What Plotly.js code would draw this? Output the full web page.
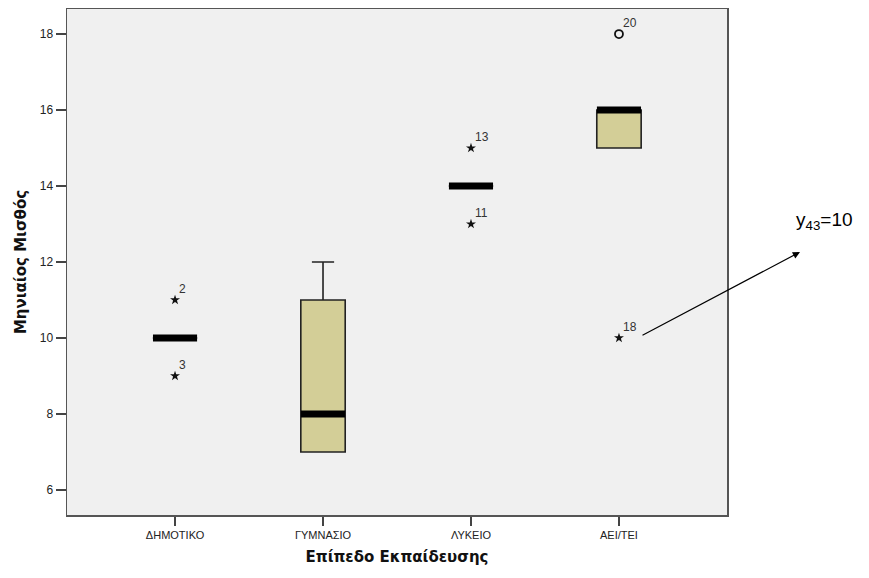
<!DOCTYPE html>
<html>
<head>
<meta charset="utf-8">
<script src="https://cdn.plot.ly/plotly-3.0.1.min.js"></script>
<style>html,body{margin:0;padding:0;background:#fff;}#chart{width:869px;height:578px;}</style>
</head>
<body>
<div id="chart"></div>
<script>
// Categories and box statistics
var categories = ['ΔΗΜΟΤΙΚΟ', 'ΓΥΜΝΑΣΙΟ', 'ΛΥΚΕΙΟ', 'ΑΕΙ/ΤΕΙ'];
var q1Values = [10, 7, 14, 15];
var medianValues = [10, 8, 14, 16];
var q3Values = [10, 11, 14, 16];
var lowerWhisker = [10, 7, 14, 15];
var upperWhisker = [10, 12, 14, 16];

// Extreme values (stars)
var extremeCat = ['ΔΗΜΟΤΙΚΟ', 'ΔΗΜΟΤΙΚΟ', 'ΛΥΚΕΙΟ', 'ΛΥΚΕΙΟ', 'ΑΕΙ/ΤΕΙ'];
var extremeVal = [11, 9, 15, 13, 10];
var extremeLabel = ['2', '3', '13', '11', '18'];

// Outliers (circles)
var outlierCat = ['ΑΕΙ/ΤΕΙ'];
var outlierVal = [18];
var outlierLabel = ['20'];

var yTicks = [6, 8, 10, 12, 14, 16, 18];

var traces = [
  {
    type: 'box',
    x: categories,
    q1: q1Values,
    median: medianValues,
    q3: q3Values,
    lowerfence: lowerWhisker,
    upperfence: upperWhisker,
    boxpoints: false,
    width: 0.3,
    whiskerwidth: 0.5,
    fillcolor: '#D3CE97',
    line: {color: '#222222', width: 1.6},
    hoverinfo: 'skip',
    showlegend: false
  },
  {
    type: 'scatter',
    mode: 'markers',
    x: categories,
    y: medianValues,
    marker: {symbol: 'line-ew', size: 31.5, color: '#000', line: {color: '#000', width: 7}},
    hoverinfo: 'skip',
    showlegend: false
  },
  {
    type: 'scatter',
    mode: 'markers',
    x: extremeCat,
    y: extremeVal,
    marker: {symbol: 'star', size: 7.5, color: '#111', line: {width: 0}},
    hoverinfo: 'skip',
    showlegend: false
  },
  {
    type: 'scatter',
    mode: 'markers',
    x: outlierCat,
    y: outlierVal,
    marker: {symbol: 'circle-open', size: 8, color: '#111', line: {color: '#111', width: 1.8}},
    hoverinfo: 'skip',
    showlegend: false
  }
];

var annotations = [];
function addLabels(cats, vals, labels) {
  for (var i = 0; i < cats.length; i++) {
    annotations.push({
      x: cats[i], y: vals[i], xref: 'x', yref: 'y',
      text: labels[i], showarrow: false,
      xanchor: 'left', yanchor: 'bottom',
      xshift: 2, yshift: 2,
      font: {family: 'Liberation Sans, Arial, sans-serif', size: 12, color: '#333'}
    });
  }
}
addLabels(extremeCat, extremeVal, extremeLabel);
addLabels(outlierCat, outlierVal, outlierLabel);

// Pointer arrow from the value-10 point towards the note
annotations.push({
  xref: 'paper', yref: 'paper',
  x: (800 - 67) / 660, y: (515 - 252) / 506,
  ax: -159, ay: 84,
  text: '', showarrow: true, arrowhead: 2, arrowsize: 1.2, arrowwidth: 1.2, arrowcolor: '#000',
  standoff: 0, startstandoff: 0
});
// Note text
annotations.push({
  xref: 'paper', yref: 'paper',
  x: (824 - 67) / 660, y: (515 - 221) / 506,
  text: 'y<sub>43</sub>=10', showarrow: false,
  xanchor: 'center', yanchor: 'middle',
  font: {family: 'Liberation Sans, Arial, sans-serif', size: 19, color: '#000'}
});

var layout = {
  width: 869, height: 578,
  margin: {l: 67, r: 142, t: 9, b: 63},
  paper_bgcolor: '#ffffff',
  plot_bgcolor: '#F0F0F0',
  showlegend: false,
  xaxis: {
    type: 'category',
    categoryorder: 'array',
    categoryarray: categories,
    range: [-0.73, 3.73],
    showgrid: false, zeroline: false,
    showline: true, mirror: true, linecolor: '#555', linewidth: 1.5,
    ticks: 'outside', ticklen: 9, tickwidth: 1.5, tickcolor: '#444',
    tickfont: {family: 'Liberation Sans, Arial, sans-serif', size: 11, color: '#222'},
    title: {text: 'Επίπεδο Εκπαίδευσης', standoff: 12,
      font: {family: 'DejaVu Sans, Verdana, sans-serif', size: 15, color: '#111', weight: 'bold'}}
  },
  yaxis: {
    range: [5.34, 18.66],
    tickvals: yTicks,
    ticktext: yTicks.map(String),
    showgrid: false, zeroline: false,
    showline: true, mirror: true, linecolor: '#555', linewidth: 1.5,
    ticks: 'outside', ticklen: 10, tickwidth: 1.5, tickcolor: '#444',
    tickfont: {family: 'Liberation Sans, Arial, sans-serif', size: 12, color: '#222'},
    title: {text: 'Μηνιαίος Μισθός', standoff: 9,
      font: {family: 'DejaVu Sans, Verdana, sans-serif', size: 15, color: '#111', weight: 'bold'}}
  },
  annotations: annotations
};

Plotly.newPlot('chart', traces, layout, {displayModeBar: false, staticPlot: true});
</script>
</body>
</html>
